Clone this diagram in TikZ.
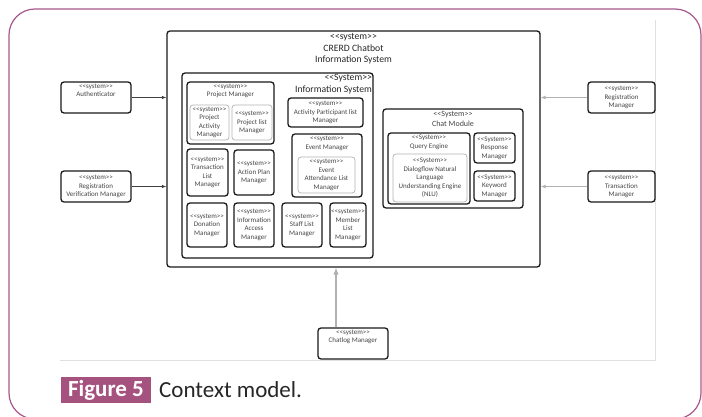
\documentclass[tikz,border=0pt]{standalone}
\usepackage{fontspec}
\newfontfamily\calib{Carlito}
\usetikzlibrary{arrows}

\definecolor{framepurple}{HTML}{A7578B}
\definecolor{captionpurple}{HTML}{A5527F}
\definecolor{labelgray}{HTML}{454545}

\newcommand{\stereo}{<<system>>}
\newcommand{\Stereo}{<<System>>}

\begin{document}
\begin{tikzpicture}[x=1pt, y=-1pt, font=\calib\fontsize{7}{8.5}\selectfont, text=labelgray,
    sysbox/.style={draw=black!90, line width=1.3pt, rounded corners=3pt, align=center, inner sep=0pt},
    subbox/.style={draw=black!30, line width=0.7pt, rounded corners=3pt, align=center, inner sep=0pt},
    boxtitle/.style={anchor=north, align=center, inner sep=0pt},
    bigtitle/.style={font=\calib\fontsize{9.7}{11.5}\selectfont, text=black!85, align=center, inner sep=0pt},
    conn/.style={-latex, draw=black!75, line width=0.6pt},
    connlight/.style={-latex, draw=black!30, line width=0.7pt}]
    \useasboundingbox (0,0) rectangle (702,417);
    \clip (0,0) rectangle (702,417);

    % page frame and picture edge
    \draw[framepurple, line width=1.2pt, rounded corners=26pt] (9,9) rectangle (701,419);
    \draw[black!12, line width=0.6pt] (60,360) -- (655,360) -- (655,20);

    % the system itself
    \node[sysbox, minimum width=373, minimum height=236] (main) at (353.5,149) {};
    \node[bigtitle, below] at ([yshift=-3]main.north) {\stereo\\CRERD Chatbot\\Information System};

    % information system
    \node[sysbox, minimum width=191, minimum height=185] (info) at (277.5,165.5) {};
    \node[bigtitle, align=right, anchor=north east] at ([xshift=-1.5,yshift=-2]info.north east) {\Stereo\\Information System};

    \node[sysbox, minimum width=87, minimum height=62] (pm) at (230.5,113) {};
    \node[boxtitle] at ([yshift=-2.5]pm.north) {\stereo\\Project Manager};
    \node[subbox, minimum width=39, minimum height=35] (pam) at (209.5,122.5) {\stereo\\Project\\Activity\\Manager};
    \node[subbox, minimum width=40, minimum height=35] (plm) at (252,122.5) {\stereo\\Project list\\Manager};

    \node[sysbox, minimum width=75, minimum height=29] (aplm) at (325.5,112.5) {\stereo\\Activity Participant list\\Manager};

    \node[sysbox, minimum width=70, minimum height=63] (em) at (327,165.5) {};
    \node[boxtitle] at ([yshift=-3]em.north) {\stereo\\Event Manager};
    \node[subbox, minimum width=57, minimum height=36] (ealm) at (326.5,175) {\stereo\\Event\\Attendance List\\Manager};

    \node[sysbox, minimum width=41, minimum height=47] (tlm) at (207.5,172.5) {\stereo\\Transaction\\List\\Manager};
    \node[sysbox, minimum width=40, minimum height=45] (apm) at (254,172.5) {\stereo\\Action Plan\\Manager};

    \node[sysbox, minimum width=40, minimum height=44] (dm) at (207,225) {\stereo\\Donation\\Manager};
    \node[sysbox, minimum width=40, minimum height=44] (iam) at (254,225) {\stereo\\Information\\Access\\Manager};
    \node[sysbox, minimum width=40, minimum height=44] (slm) at (302,225) {\stereo\\Staff List\\Manager};
    \node[sysbox, minimum width=36, minimum height=44] (mlm) at (348,225) {\stereo\\Member\\List\\Manager};

    % chat module
    \node[sysbox, minimum width=140, minimum height=99] (chat) at (453,158.5) {};
    \node[boxtitle, font=\calib\fontsize{8}{9.5}\selectfont] at ([yshift=-3]chat.north) {\Stereo\\Chat Module};

    \node[sysbox, minimum width=82, minimum height=71] (qe) at (429,168.5) {};
    \node[boxtitle] at ([yshift=-2.5]qe.north) {\Stereo\\Query Engine};
    \node[subbox, minimum width=74, minimum height=48] (nlu) at (430,178) {\Stereo\\Dialogflow Natural\\Language\\Understanding Engine\\(NLU)};

    \node[sysbox, minimum width=41, minimum height=30] (rm) at (494.5,148) {\Stereo\\Response\\Manager};
    \node[sysbox, minimum width=41, minimum height=30] (km) at (494.5,186) {\Stereo\\Keyword\\Manager};

    % outside systems
    \node[sysbox, minimum width=70, minimum height=31] (auth) at (96,97.5) {\stereo\\Authenticator\\[6pt]};
    \node[sysbox, minimum width=70, minimum height=31] (rvm) at (96,186.5) {\stereo\\Registration\\Verification Manager};
    \node[sysbox, minimum width=67, minimum height=31] (regm) at (621.5,97.5) {\stereo\\Registration\\Manager};
    \node[sysbox, minimum width=67, minimum height=31] (tm) at (621.5,186.5) {\stereo\\Transaction\\Manager};
    \node[sysbox, minimum width=70, minimum height=31] (chatlog) at (353,343.5) {\stereo\\Chatlog Manager\\[6pt]};

    \draw[conn] (auth) -- (auth -| main.west);
    \draw[conn] (rvm) -- (rvm -| main.west);
    \draw[connlight] (regm) -- (regm -| main.east);
    \draw[connlight] (tm) -- (tm -| main.east);
    \draw[connlight, line width=1.4pt] ([xshift=-17]chatlog.north) -- ([xshift=-17]chatlog.north |- main.south);

    % caption
    \node[fill=captionpurple, text=white, font=\calib\bfseries\fontsize{23}{26}\selectfont, minimum width=90, minimum height=26, inner sep=0pt] (fig) at (106,390) {Figure 5};
    \node[anchor=west, inner sep=0pt, text=black!85, font=\calib\fontsize{23}{26}\selectfont] (cap) at (159,390) {Context model.};
\end{tikzpicture}
\end{document}
